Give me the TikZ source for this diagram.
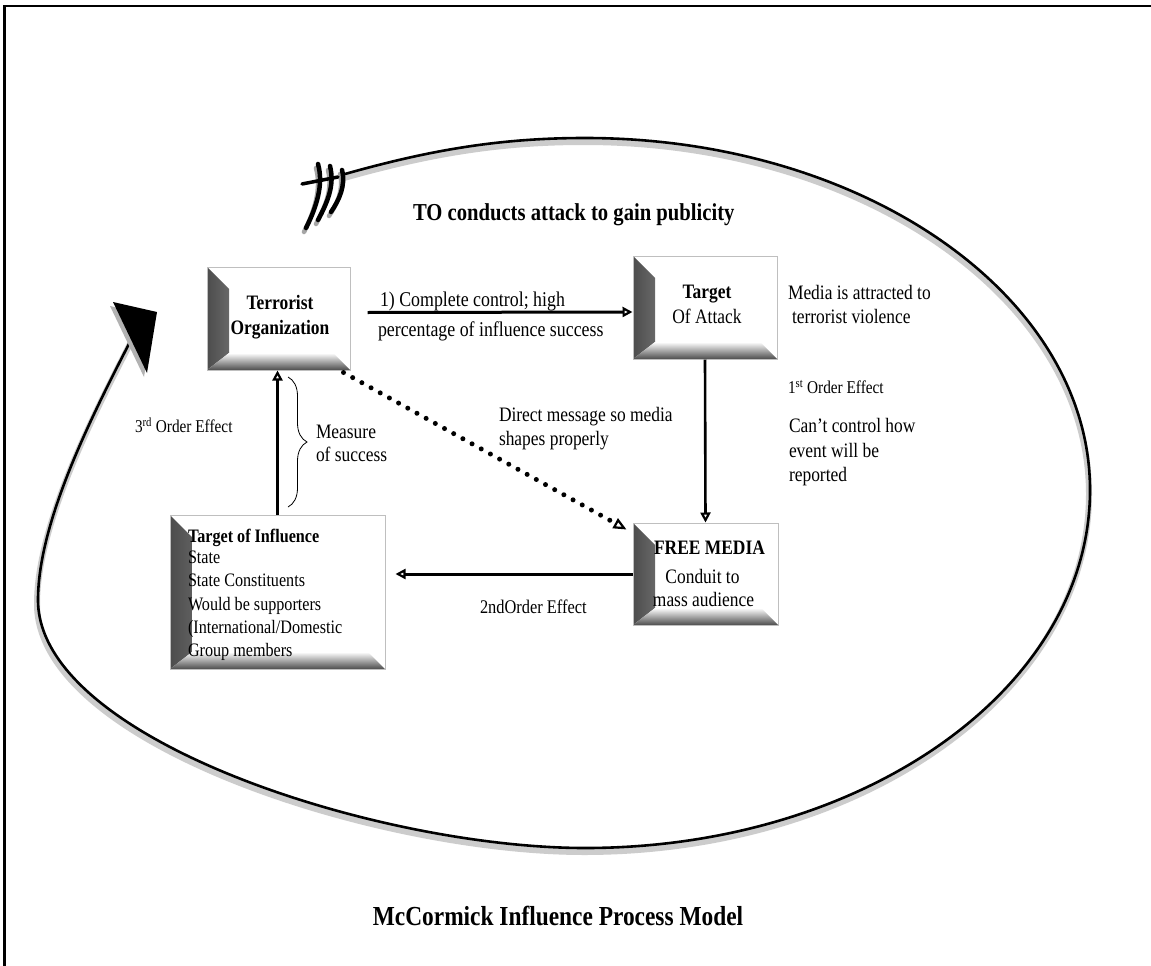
\documentclass[tikz,border=0pt]{standalone}
\usepackage{fontspec}
\setmainfont{Liberation Serif}[FakeStretch=0.85]
\usetikzlibrary{arrows.meta,decorations.pathreplacing}
\newcommand\fsz[2]{\fontsize{#1pt}{#2pt}\selectfont}
\def\ringpath{(345,174) .. controls (430,150) and (500,138) .. (585,138)
  .. controls (864,138) and (1090,296) .. (1090,490)
  .. controls (1090,688) and (864,848) .. (585,848)
  .. controls (380,848) and (38,740) .. (38,600)
  .. controls (38,520) and (95,410) .. (132,338)}
\begin{document}
\begin{tikzpicture}[x=1pt,y=-1pt,
  txt/.style={inner sep=0pt, outer sep=0pt, font=\fsz{20.5}{25}},
  small/.style={inner sep=0pt, outer sep=0pt, font=\fsz{18}{22}},
  arr/.style={line width=3pt, -{Triangle[open,length=10pt,width=10pt,line width=2.2pt]}},
  bevelbox/.style={draw=black!25, line width=1pt, fill=white, inner sep=0pt,
    path picture={
      \shade[left color=black!70, right color=white]
        (path picture bounding box.south west)
        -- ([shift={(22pt,17pt)}]path picture bounding box.south west)
        -- ([shift={(22pt,-22pt)}]path picture bounding box.north west)
        -- (path picture bounding box.north west) -- cycle;
      \shade[top color=white, bottom color=black!70]
        (path picture bounding box.south west)
        -- ([shift={(22pt,17pt)}]path picture bounding box.south west)
        -- ([shift={(-17pt,17pt)}]path picture bounding box.south east)
        -- (path picture bounding box.south east) -- cycle;
    }},
  feather/.style={line width=4.5pt, line cap=round},
 ]
\useasboundingbox (0,0) rectangle (1151,966);
\fill[white] (0,0) rectangle (1151,966);
% frame
\draw[line width=2.7pt] (4.5,966) -- (4.5,6) -- (1151,6);

% big circular arrow
\draw[line width=6pt, black!20, shift={(-1,4)}] \ringpath;
\draw[line width=2.6pt] \ringpath;
% arrow head
\fill[black!30, shift={(-3,4)}] (113,302) -- (157,312) -- (147,373) -- cycle;
\fill (113,302) -- (157,312) -- (147,373) -- cycle;
% feathers
\begin{scope}[black!35, shift={(-2,4)}]
\draw[feather] (318,164) .. controls (324,185) and (316,208) .. (306,228);
\draw[feather] (330,166) .. controls (335,186) and (327,203) .. (318,220);
\draw[feather] (342,170) .. controls (346,186) and (339,200) .. (331,212);
\end{scope}
\draw[feather] (318,164) .. controls (324,185) and (316,208) .. (306,228);
\draw[feather] (330,166) .. controls (335,186) and (327,203) .. (318,220);
\draw[feather] (342,170) .. controls (346,186) and (339,200) .. (331,212);
\draw[feather, line width=3.5pt] (302,184) -- (338,177);

% boxes
\node[bevelbox, minimum width=143pt, minimum height=103pt] (tot) at (278.5,318.5) {};
\node[bevelbox, minimum width=144pt, minimum height=103pt] (toa) at (705,307.5) {};
\node[bevelbox, minimum width=145pt, minimum height=102pt] (fm) at (705.5,574) {};
\node[bevelbox, minimum width=215pt, minimum height=154pt] (toi) at (277.5,592) {};

% box texts
\node[txt, anchor=base] (tot1) at (280,309) {\bfseries Terrorist};
\node[txt, anchor=base] (tot2) at (280,334) {\bfseries Organization};
\node[txt, anchor=base] (toa1) at (707,298) {\bfseries Target};
\node[txt, anchor=base] (toa2) at (707,323) {Of Attack};
\node[txt, anchor=base] (fm1) at (709.5,554) {\bfseries FREE MEDIA};
\node[txt, anchor=base] (fm2) at (702.5,583) {Conduit to};
\node[txt, anchor=base] (fm3) at (703.5,606) {mass audience};
\begin{scope}[every node/.style={inner sep=0pt, outer sep=0pt, font=\fsz{19}{23}, anchor=base west}]
\node (toi1) at (188,542.7) {\bfseries Target of Influence};
\node (toi2) at (188,563.3) {State};
\node (toi3) at (188,586.7) {State Constituents};
\node (toi4) at (188,610) {Would be supporters};
\node (toi5) at (188,633) {(International/Domestic};
\node (toi6) at (188,656.7) {Group members};
\end{scope}

% connectors
\draw[arr] ([shift={(17,-6)}]tot.east) -- ([shift={(0,4.5)}]toa.west);
\draw[arr, line width=2.6pt] (toa.south) -- (fm.north);
\draw[arr] (fm.west) -- ([xshift=10pt]toi.east |- fm.west);
\draw[arr] (toi.north) -- (toi.north |- tot.south);
\draw[line width=5pt, line cap=round, dash pattern=on 0pt off 10.5pt,
  -{Triangle[open,length=13pt,width=11pt,line width=2.2pt]}]
  ([shift={(-7,2)}]tot.south east) -- ([shift={(-6,7)}]fm.north west);
\draw[decorate, decoration={brace, amplitude=19pt}, line width=0.8pt] (288,377) -- (288,507);

% labels
\node[txt, anchor=base west, font=\fsz{21}{25}] (l1a) at (380,306) {1) Complete control; high};
\node[txt, anchor=base west, font=\fsz{21}{25}] (l1b) at (378,336.5) {percentage of influence success};
\node[txt, anchor=base west] (m1) at (788,299) {Media is attracted to};
\node[txt, anchor=base west] (m2) at (792,323.3) {terrorist violence};
\node[small, anchor=base west] (e1) at (788,393.3) {1\textsuperscript{st} Order Effect};
\node[txt, anchor=base west] (c1) at (789,432.7) {Can’t control how};
\node[txt, anchor=base west] (c2) at (789,457.7) {event will be};
\node[txt, anchor=base west] (c3) at (789,481.7) {reported};
\node[txt, anchor=base west] (d1) at (499,421.7) {Direct message so media};
\node[txt, anchor=base west] (d2) at (499,445) {shapes properly};
\node[txt, anchor=base west] (ms1) at (316,438.3) {Measure};
\node[txt, anchor=base west] (ms2) at (316,461.7) {of success};
\node[small, anchor=base west] (e3) at (135,432.7) {3\textsuperscript{rd} Order Effect};
\node[txt, anchor=base west, font=\fsz{19.3}{23}] (e2) at (480,613.3) {2ndOrder Effect};
\node[txt, anchor=base west, font=\fsz{24.3}{28}] (top) at (413,220) {\bfseries TO conducts attack to gain publicity};
\node[txt, anchor=base, font=\fsz{27.5}{32}] (title) at (558,925) {\bfseries McCormick Influence Process Model};
\end{tikzpicture}
\end{document}
